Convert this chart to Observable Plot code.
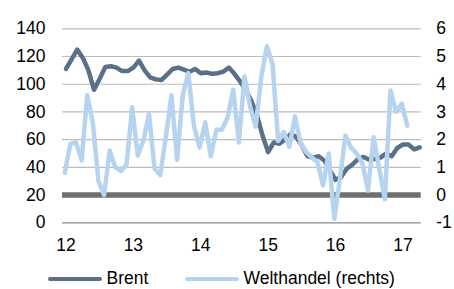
<!DOCTYPE html>
<html>
<head>
<meta charset="utf-8">
<script src="https://cdn.jsdelivr.net/npm/d3@7"></script>
<script src="https://cdn.jsdelivr.net/npm/@observablehq/plot@0.6"></script>
<style>
  html, body { margin: 0; padding: 0; background: #fff; }
  #wrap { position: relative; width: 454px; height: 289px; overflow: hidden; font-family: "Liberation Sans", Arial, sans-serif; }
  .leg { position: absolute; top: 270px; display: flex; align-items: center; font-size: 17.5px; line-height: 17.5px; color: #000; white-space: nowrap; }
  .sw { display: inline-block; width: 54px; height: 4.5px; border-radius: 2.5px; margin-right: 4.5px; }
</style>
</head>
<body>
<div id="wrap">
  <div id="chart"></div>
  <div class="leg" style="left:48px"><span class="sw" style="background:#5a7089"></span>Brent</div>
  <div class="leg" style="left:185px"><span class="sw" style="background:#b6d3f0"></span>Welthandel (rechts)</div>
</div>
<script>
// Brent, USD/bbl, monthly Jan 2012 – Apr 2017 (left axis)
const brent = [
  111, 118, 125, 119, 110, 96, 104, 112.5, 113, 112, 109.5, 109.5,
  112, 117, 110, 105, 103.5, 103, 107, 111, 112, 110.5, 109, 111,
  108, 108.5, 107.5, 108, 109, 112, 107.5, 102, 96, 88, 78, 63,
  51, 58, 57, 60, 64, 62, 56, 48, 47, 48, 45, 38,
  31, 33, 39, 42, 46, 47.5, 45.5, 46, 47, 50, 48, 54,
  56.5, 56.5, 53, 54.5
];
// Welthandel, % yoy, monthly Jan 2012 – Feb 2017 (right axis)
const welthandel = [
  0.8, 1.85, 1.9, 1.25, 3.6, 2.6, 0.5, 0.0, 1.6, 1.0, 0.87, 1.1,
  3.17, 1.43, 1.97, 2.93, 0.95, 0.72, 2.1, 3.6, 1.27, 3.6, 4.4, 2.5,
  1.72, 2.63, 1.4, 2.36, 2.36, 2.8, 3.8, 1.9, 4.28, 3.2, 2.47, 4.28,
  5.37, 4.73, 1.95, 2.27, 1.75, 2.84, 1.87, 1.55, 1.35, 1.2, 0.35, 1.5,
  -0.86, 0.6, 2.15, 1.7, 1.5, 1.15, 0.16, 2.09, 0.95, -0.15, 3.77, 3.0,
  3.3, 2.5
];
const yearLabels = ["12", "13", "14", "15", "16", "17"];
const leftTicks = [0, 20, 40, 60, 80, 100, 120, 140];
const rightTicks = [-1, 0, 1, 2, 3, 4, 5, 6];

const brentData = brent.map((v, k) => ({k, v}));
const whData = welthandel.map((v, k) => ({k, v}));
const toLeft = v => (v + 1) * 20; // right axis -1..6 -> left 0..140

const chart = Plot.plot({
  width: 454,
  height: 256,
  marginLeft: 62,
  marginRight: 33.3,
  marginTop: 28.3,
  marginBottom: 33.7,
  x: {domain: [-0.62, 63.26], axis: null},
  y: {domain: [0, 140], axis: null},
  style: {fontFamily: "'Liberation Sans', Arial, sans-serif", fontSize: "17.5px", color: "#000", background: "#fff"},
  marks: [
    Plot.ruleY(leftTicks.filter(d => d >= 40), {stroke: "#bdbdbd", strokeWidth: 1.2}),
    Plot.ruleY([0], {stroke: "#8a8a8a", strokeWidth: 1.3}),
    Plot.ruleY(rightTicks.filter(d => d === 0).map(toLeft), {stroke: "#6f6f6f", strokeWidth: 5.5}),
    Plot.line(brentData, {x: "k", y: "v", stroke: "#5a7089", strokeWidth: 4.5}),
    Plot.line(whData, {x: "k", y: d => toLeft(d.v), stroke: "#b6d3f0", strokeWidth: 4.5, dx: -1.2}),
    Plot.axisY({ticks: leftTicks, anchor: "left", tickSize: 0, tickPadding: 17, label: null}),
    Plot.axisY({ticks: rightTicks.map(toLeft), anchor: "right", tickSize: 0, tickPadding: 15, textAnchor: "start", label: null,
      tickFormat: d => String(Math.round(d / 20 - 1))}),
    Plot.axisX({ticks: yearLabels.map((_, i) => i * 12), tickSize: 0, tickPadding: 16, label: null,
      tickFormat: d => yearLabels[Math.round(d / 12)]})
  ]
});
document.getElementById("chart").append(chart);
</script>
</body>
</html>
